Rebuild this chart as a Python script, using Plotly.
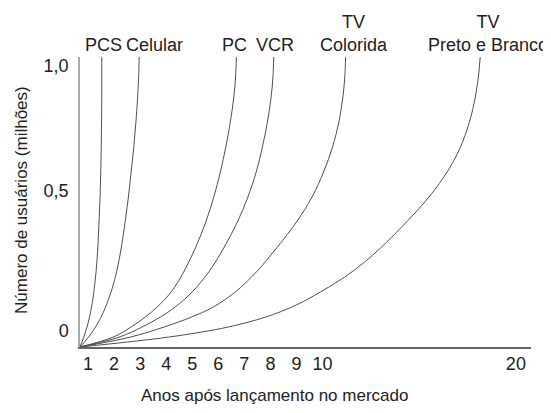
import plotly.graph_objects as go

# Tick labels (positions; the printed axis is not uniform)
x_tick_pos = [1, 2, 3, 4, 5, 6, 7, 8, 9, 10, 17.42]
x_tick_text = ["1", "2", "3", "4", "5", "6", "7", "8", "9", "10", "20"]
y_tick_pos = [0.055, 0.538, 0.969]
y_tick_text = ["0", "0,5", "1,0"]

# Curves (years, millions)
common_y = [0.0, 0.034, 0.069, 0.103, 0.138, 0.19, 0.259, 0.345, 0.431,
            0.517, 0.603, 0.69, 0.776, 0.862, 0.931, 1.0]

pcs_x = [0.692, 0.838, 0.962, 1.058, 1.135, 1.223, 1.308, 1.377, 1.423,
         1.462, 1.488, 1.508, 1.519, 1.527, 1.527, 1.527]
pcs_y = common_y

cel_x = [0.692, 1.019, 1.288, 1.5, 1.673, 1.885, 2.096, 2.281, 2.423,
         2.55, 2.654, 2.758, 2.838, 2.904, 2.942, 2.962]
cel_y = common_y

pc_x = [0.692, 1.962, 2.654, 3.192, 3.654, 4.192, 4.673, 5.135, 5.519,
        5.827, 6.077, 6.288, 6.462, 6.596, 6.662, 6.692]
pc_y = common_y

vcr_x = [0.692, 2.192, 3.077, 3.769, 4.346, 5.0, 5.635, 6.231, 6.731,
         7.135, 7.454, 7.692, 7.885, 8.027, 8.096, 8.127]
vcr_y = common_y

tvc_x = [0.692, 2.615, 3.923, 4.962, 5.808, 6.654, 7.462, 8.269, 9.0,
         9.596, 10.038, 10.385, 10.627, 10.781, 10.854, 10.885]
tvc_y = common_y

tvpb_x = [0.692, 2.5, 4.077, 5.385, 6.385, 7.808, 9.0, 9.923, 10.846,
          11.615, 12.269, 13.038, 13.923, 14.654, 15.242, 15.692, 15.95, 16.05]
tvpb_y = [0.0, 0.017, 0.034, 0.052, 0.069, 0.103, 0.145, 0.19, 0.241,
          0.293, 0.345, 0.414, 0.5, 0.586, 0.679, 0.793, 0.91, 1.0]

series = [
    ("PCS", pcs_x, pcs_y),
    ("Celular", cel_x, cel_y),
    ("PC", pc_x, pc_y),
    ("VCR", vcr_x, vcr_y),
    ("TV<br>Colorida", tvc_x, tvc_y),
    ("TV<br>Preto e Branco", tvpb_x, tvpb_y),
]
label_x = [1.58, 3.54, 6.62, 8.19, 11.19, 16.35]

FONT = "Liberation Sans, Arial, sans-serif"
fig = go.Figure()
for name, xs, ys in series:
    fig.add_trace(go.Scatter(x=xs, y=ys, mode="lines",
                             line=dict(color="#505050", width=1, shape="spline",
                                       smoothing=1.0),
                             hoverinfo="skip", showlegend=False))

# label centres: single-line at paper y 1.041, two-line block at 1.081
for (name, xs, ys), lx in zip(series, label_x):
    ly = 1.081 if "<br>" in name else 1.041
    fig.add_annotation(x=lx, y=ly, xref="x", yref="paper", text=name,
                       showarrow=False, yanchor="middle",
                       font=dict(family=FONT, size=18, color="#222"))

fig.add_annotation(x=0.432, y=-0.166, xref="paper", yref="paper",
                   text="Anos após lançamento no mercado", showarrow=False,
                   yanchor="middle", font=dict(family=FONT, size=17, color="#222"))
fig.add_annotation(x=-0.1286, y=0.507, xref="paper", yref="paper",
                   text="Número de usuários (milhões)", showarrow=False,
                   textangle=-90, xanchor="center", yanchor="middle",
                   font=dict(family=FONT, size=17, color="#222"))

# page body has an 8px margin: shrink the figure and margins to compensate
fig.update_layout(
    width=543, height=405,
    margin=dict(l=72, r=20, t=49, b=66),
    paper_bgcolor="white", plot_bgcolor="white",
    font=dict(family=FONT, size=18, color="#222"),
    xaxis=dict(range=[0.692, 18.0], tickvals=x_tick_pos, ticktext=x_tick_text,
               showgrid=False, zeroline=False, showline=True,
               linecolor="#666", linewidth=1.5, ticks="",
               tickfont=dict(size=18)),
    yaxis=dict(range=[0, 1.0], tickvals=y_tick_pos, ticktext=y_tick_text,
               showgrid=False, zeroline=False, showline=True,
               linecolor="#aaa", linewidth=1.5, ticks="",
               tickfont=dict(size=18), ticklabelstandoff=6),
)
fig.write_html("out.html")
